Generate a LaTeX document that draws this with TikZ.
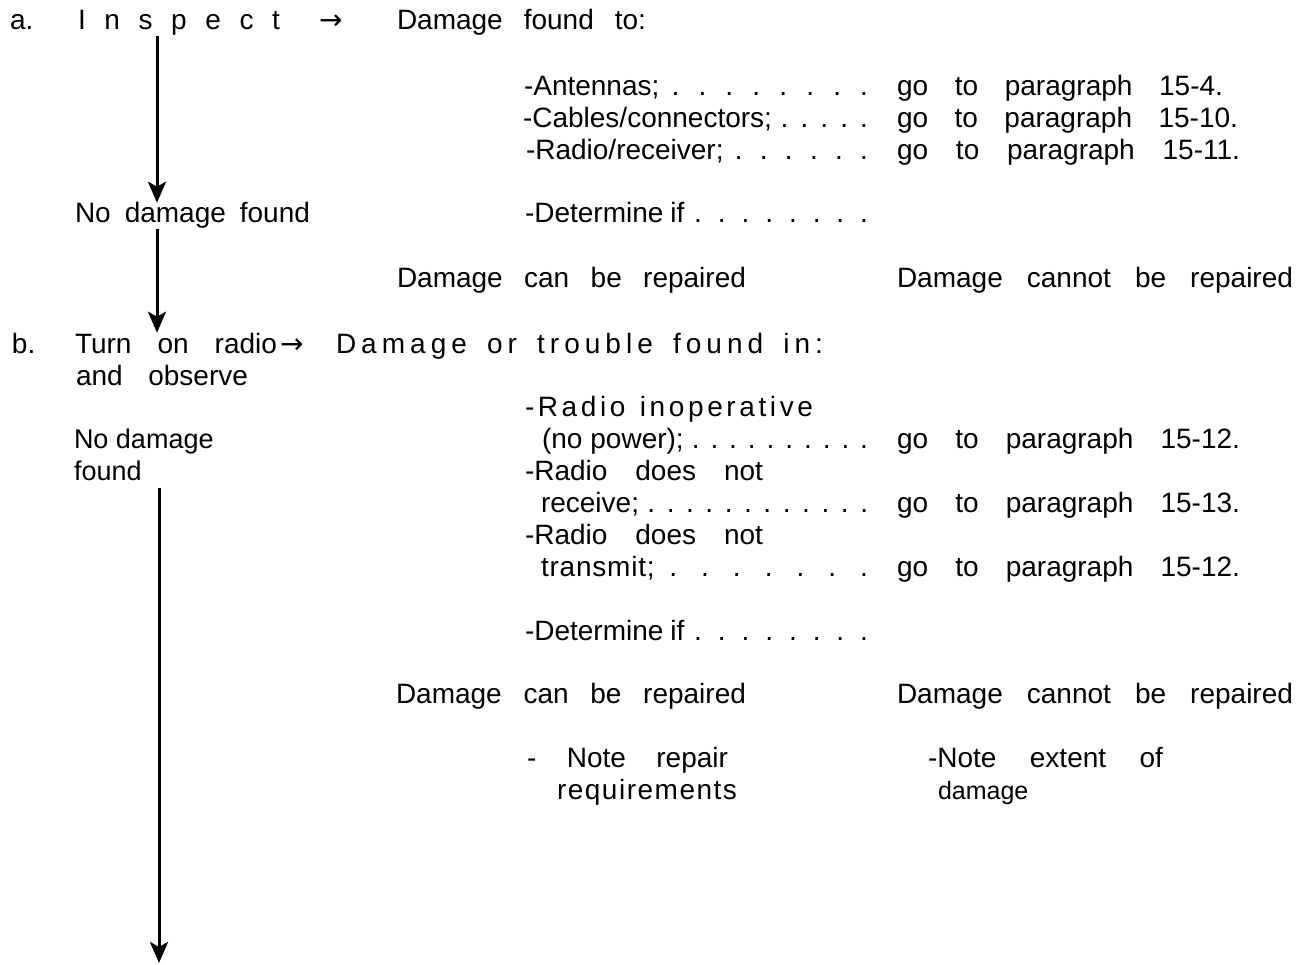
\documentclass[tikz,border=0pt]{standalone}
\usepackage{fontspec}
\setmainfont{Liberation Sans}
\newfontfamily\arrfont{DejaVu Sans}
\usetikzlibrary{arrows.meta}
\newcommand\Lsp{\hskip 0pt plus 1fil\relax}
\newcommand\Wsp{\hskip 0pt plus 4fil\relax}
\newcommand\Ksp{\kern0.8pt\relax}
\newcommand\spr[2]{\makebox[#1pt][s]{#2}}
\begin{document}
\begin{tikzpicture}[x=1pt,y=-1pt,
  txt/.style={anchor=base west,inner sep=0pt,outer sep=0pt,font=\fontsize{28}{32}\selectfont},
  small/.style={txt,font=\fontsize{27}{30}\selectfont},
  smaller/.style={txt,font=\fontsize{25}{30}\selectfont},
  flow/.style={line width=3pt,-{Stealth[length=21pt,width=18pt,inset=5pt]}},
]
\useasboundingbox (0,0) rectangle (1314,965);
\coordinate (x1) at (157,0);
% ---- a.
\node[txt] (la) at (10,30) {a.};
\node[txt] (insp) at (78,30) {\spr{202}{I n s p e c t}};
\node[txt] (ar1) at (319,30) {\arrfont →};
\node[txt] (dmg1) at (397,30) {\spr{249}{Damage found to:}};
\node[txt] (ant) at (524,96) {\spr{344}{-Antennas; . . . . . . . .}};
\node[txt] (antp) at (897,96) {\spr{326}{go to paragraph 15-4.}};
\node[txt] (cab) at (523,128) {\spr{345}{-Cables/connectors; . . . . .}};
\node[txt] (cabp) at (897,128) {\spr{341}{go to paragraph 15-10.}};
\node[txt] (rad) at (526,160) {\spr{342}{-Radio/receiver; . . . . . .}};
\node[txt] (radp) at (897,160) {\spr{343}{go to paragraph 15-11.}};
\node[txt] (nd1) at (75,223) {\spr{235}{No damage found}};
\node[txt] (det1) at (525,223) {\spr{343}{-Determine\kern7pt if . . . . . . . .}};
\node[txt] (rep1) at (397,288) {\spr{349}{Damage can be repaired}};
\node[txt] (nrep1) at (897,288) {\spr{396}{Damage cannot be repaired}};
% ---- b.
\node[txt] (lb) at (12,353) {b.};
\node[txt] (turn) at (75,353) {\spr{202}{Turn on radio}};
\node[txt] (ar2) at (280,353) {\arrfont →};
\node[txt] (dmg2) at (336,353) {\spr{487}{D\Lsp a\Lsp m\Lsp a\Lsp g\Lsp e\Wsp o\Lsp r\Wsp t\Lsp r\Lsp o\Lsp u\Lsp b\Lsp l\Lsp e\Wsp f\Lsp o\Lsp u\Lsp n\Lsp d\Wsp i\Lsp n\Lsp :}};
\node[txt] (obs) at (76,385) {\spr{172}{and observe}};
\node[txt] (rinop) at (525,416) {\spr{288}{-\Lsp R\Lsp a\Lsp d\Lsp i\Lsp o\Wsp i\Lsp n\Lsp o\Lsp p\Lsp e\Lsp r\Lsp a\Lsp t\Lsp i\Lsp v\Lsp e}};
\node[small] (nd2) at (74,448) {No damage};
\node[small] (fnd) at (74,480) {found};
\node[txt] (nopow) at (542,448) {\spr{326}{(no power); . . . . . . . . . .}};
\node[txt] (nopowp) at (897,448) {\spr{343}{go to paragraph 15-12.}};
\node[txt] (rdn1) at (525,480) {\spr{238}{-Radio does not}};
\node[txt] (recv) at (541,512) {\spr{327}{receive; . . . . . . . . . . . .}};
\node[txt] (recvp) at (897,512) {\spr{343}{go to paragraph 15-13.}};
\node[txt] (rdn2) at (525,544) {\spr{238}{-Radio does not}};
\node[txt] (trans) at (541,576) {\spr{327}{t\Ksp r\Ksp a\Ksp n\Ksp s\Ksp m\Ksp i\Ksp t\Ksp; . . . . . . .}};
\node[txt] (transp) at (897,576) {\spr{343}{go to paragraph 15-12.}};
\node[txt] (det2) at (525,640) {\spr{343}{-Determine\kern7pt if . . . . . . . .}};
\node[txt] (rep2) at (396,703) {\spr{350}{Damage can be repaired}};
\node[txt] (nrep2) at (897,703) {\spr{396}{Damage cannot be repaired}};
\node[txt] (note1) at (527,767) {\spr{201}{- Note repair}};
\node[txt] (req) at (557,799) {\spr{180}{r\Lsp e\Lsp q\Lsp u\Lsp i\Lsp r\Lsp e\Lsp m\Lsp e\Lsp n\Lsp t\Lsp s}};
\node[txt] (note2) at (928,767) {\spr{235}{-Note extent of}};
\node[smaller] (dmgx) at (938,799) {damage};
% ---- connectors
\draw[flow] (insp.south -| x1) -- (nd1.north -| x1);
\draw[flow] (nd1.south -| x1) -- (turn.north -| x1);
\coordinate (a3s) at (159,488);
\coordinate (a3e) at (159,963);
\draw[flow] (a3s) -- (a3e);
\end{tikzpicture}
\end{document}
